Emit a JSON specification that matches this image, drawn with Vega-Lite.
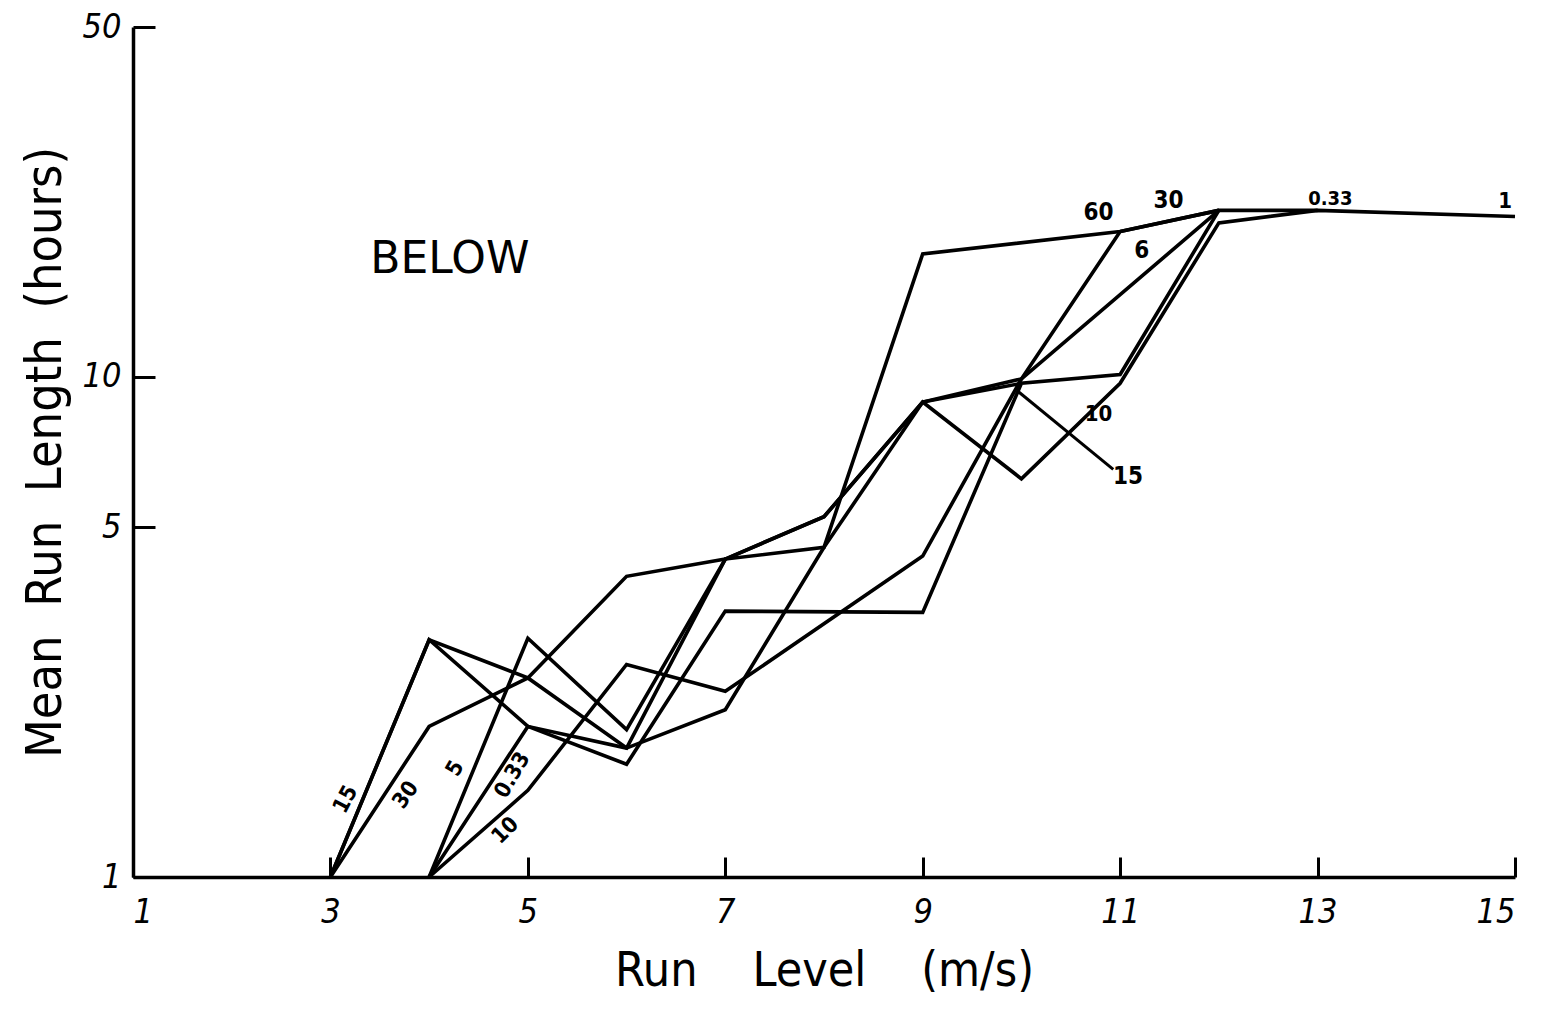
{
  "$schema": "https://vega.github.io/schema/vega-lite/v6.json",
  "width": 1382,
  "height": 850,
  "autosize": {"type": "none"},
  "padding": {"left": 133, "top": 27, "right": 32, "bottom": 133},
  "background": "white",
  "config": {"view": {"stroke": null}, "axis": {"grid": false}},
  "datasets": {
    "runs": [
      {"s": "15", "x": 3, "y": 1}, {"s": "15", "x": 4, "y": 2.98}, {"s": "15", "x": 5, "y": 2.5}, {"s": "15", "x": 6, "y": 1.81}, {"s": "15", "x": 7, "y": 2.16}, {"s": "15", "x": 8, "y": 4.56}, {"s": "15", "x": 9, "y": 8.9}, {"s": "15", "x": 10, "y": 9.7},
      {"s": "30", "x": 3, "y": 1}, {"s": "30", "x": 4, "y": 2.0}, {"s": "30", "x": 5, "y": 2.5}, {"s": "30", "x": 6, "y": 3.99}, {"s": "30", "x": 7, "y": 4.32}, {"s": "30", "x": 8, "y": 5.25}, {"s": "30", "x": 9, "y": 8.9}, {"s": "30", "x": 10, "y": 9.9}, {"s": "30", "x": 11, "y": 19.5}, {"s": "30", "x": 12, "y": 21.5},
      {"s": "60", "x": 4, "y": 1}, {"s": "60", "x": 5, "y": 3.0}, {"s": "60", "x": 6, "y": 1.97}, {"s": "60", "x": 7, "y": 4.32}, {"s": "60", "x": 8, "y": 4.56}, {"s": "60", "x": 9, "y": 17.6}, {"s": "60", "x": 11, "y": 19.5}, {"s": "60", "x": 12, "y": 21.5},
      {"s": "0.33", "x": 4, "y": 1}, {"s": "0.33", "x": 5, "y": 2.0}, {"s": "0.33", "x": 6, "y": 1.68}, {"s": "0.33", "x": 7, "y": 3.4}, {"s": "0.33", "x": 9, "y": 3.38}, {"s": "0.33", "x": 10, "y": 9.7}, {"s": "0.33", "x": 11, "y": 10.1}, {"s": "0.33", "x": 12, "y": 21.5}, {"s": "0.33", "x": 13, "y": 21.5},
      {"s": "10", "x": 4, "y": 1}, {"s": "10", "x": 5, "y": 1.49}, {"s": "10", "x": 6, "y": 2.66}, {"s": "10", "x": 7, "y": 2.35}, {"s": "10", "x": 9, "y": 4.38}, {"s": "10", "x": 10, "y": 9.9}, {"s": "10", "x": 12, "y": 21.5},
      {"s": "1", "x": 3, "y": 1}, {"s": "1", "x": 4, "y": 2.98}, {"s": "1", "x": 5, "y": 2.0}, {"s": "1", "x": 6, "y": 1.81}, {"s": "1", "x": 7, "y": 4.32}, {"s": "1", "x": 8, "y": 5.25}, {"s": "1", "x": 9, "y": 8.9}, {"s": "1", "x": 10, "y": 6.25}, {"s": "1", "x": 11, "y": 9.7}, {"s": "1", "x": 12, "y": 20.3}, {"s": "1", "x": 13, "y": 21.5}, {"s": "1", "x": 15, "y": 20.9}
    ],
    "leaders": [
      {"x": 9.97, "y": 9.33, "x2": 10.93, "y2": 6.53}
    ],
    "labels": [
      {"t": "15", "x": 3.15, "y": 1.43, "a": -62, "size": 22},
      {"t": "30", "x": 3.76, "y": 1.46, "a": -55, "size": 22},
      {"t": "5", "x": 4.26, "y": 1.65, "a": -60, "size": 22},
      {"t": "0.33", "x": 4.84, "y": 1.6, "a": -60, "size": 22},
      {"t": "10", "x": 4.77, "y": 1.24, "a": -45, "size": 22},
      {"t": "60", "x": 10.78, "y": 21.2, "a": 0, "size": 24},
      {"t": "30", "x": 11.49, "y": 22.4, "a": 0, "size": 24},
      {"t": "6", "x": 11.22, "y": 17.8, "a": 0, "size": 24},
      {"t": "0.33", "x": 13.13, "y": 22.7, "a": 0, "size": 20},
      {"t": "1", "x": 14.9, "y": 22.4, "a": 0, "size": 22},
      {"t": "10", "x": 10.78, "y": 8.43, "a": 0, "size": 22},
      {"t": "15", "x": 11.08, "y": 6.3, "a": 0, "size": 24}
    ],
    "notes": [
      {"t": "BELOW", "x": 4.21, "y": 17.1}
    ]
  },
  "layer": [
    {
      "data": {"name": "runs"},
      "mark": {"type": "line", "color": "black", "strokeWidth": 3.6, "strokeJoin": "miter"},
      "encoding": {
        "x": {
          "field": "x", "type": "quantitative",
          "scale": {"domain": [1, 15], "nice": false, "zero": false},
          "axis": {
            "values": [1, 3, 5, 7, 9, 11, 13, 15],
            "format": "d",
            "title": "Run\u00a0\u00a0\u00a0 Level\u00a0\u00a0\u00a0 (m/s)",
            "titleFont": "DejaVu Sans Condensed",
            "titleFontSize": 48,
            "titleFontWeight": "normal",
            "titleColor": "black",
            "titlePadding": 18,
            "labelFont": "DejaVu Sans Condensed",
            "labelFontStyle": "italic",
            "labelFontSize": 34,
            "labelColor": "black",
            "labelPadding": 38,
            "tickSize": -20,
            "tickWidth": 3,
            "tickColor": "black",
            "domainColor": "black",
            "domainWidth": 3.5
          }
        },
        "y": {
          "field": "y", "type": "quantitative",
          "scale": {"type": "log", "domain": [1, 50], "nice": false},
          "axis": {
            "values": [1, 5, 10, 50],
            "format": "d",
            "title": "Mean\u00a0 Run\u00a0 Length\u00a0 (hours)",
            "titleFont": "DejaVu Sans Condensed",
            "titleFontSize": 50,
            "titleFontWeight": "normal",
            "titleColor": "black",
            "titlePadding": 12,
            "labelFont": "DejaVu Sans Condensed",
            "labelFontStyle": "italic",
            "labelFontSize": 34,
            "labelColor": "black",
            "labelPadding": 34,
            "tickSize": -22,
            "tickWidth": 3,
            "tickColor": "black",
            "domainColor": "black",
            "domainWidth": 3.5
          }
        },
        "detail": {"field": "s", "type": "nominal"}
      }
    },
    {
      "data": {"name": "leaders"},
      "mark": {"type": "rule", "color": "black", "strokeWidth": 3},
      "encoding": {
        "x": {"field": "x", "type": "quantitative"},
        "y": {"field": "y", "type": "quantitative"},
        "x2": {"field": "x2"},
        "y2": {"field": "y2"}
      }
    },
    {
      "data": {"name": "labels"},
      "mark": {"type": "text", "font": "DejaVu Sans Condensed", "fontWeight": "bold", "color": "black", "align": "center", "baseline": "middle"},
      "encoding": {
        "x": {"field": "x", "type": "quantitative"},
        "y": {"field": "y", "type": "quantitative"},
        "text": {"field": "t", "type": "nominal"},
        "angle": {"field": "a", "type": "quantitative", "scale": null},
        "size": {"field": "size", "type": "quantitative", "scale": null}
      }
    },
    {
      "data": {"name": "notes"},
      "mark": {"type": "text", "font": "DejaVu Sans", "fontSize": 44, "color": "black", "align": "center", "baseline": "middle"},
      "encoding": {
        "x": {"field": "x", "type": "quantitative"},
        "y": {"field": "y", "type": "quantitative"},
        "text": {"field": "t", "type": "nominal"}
      }
    }
  ]
}
